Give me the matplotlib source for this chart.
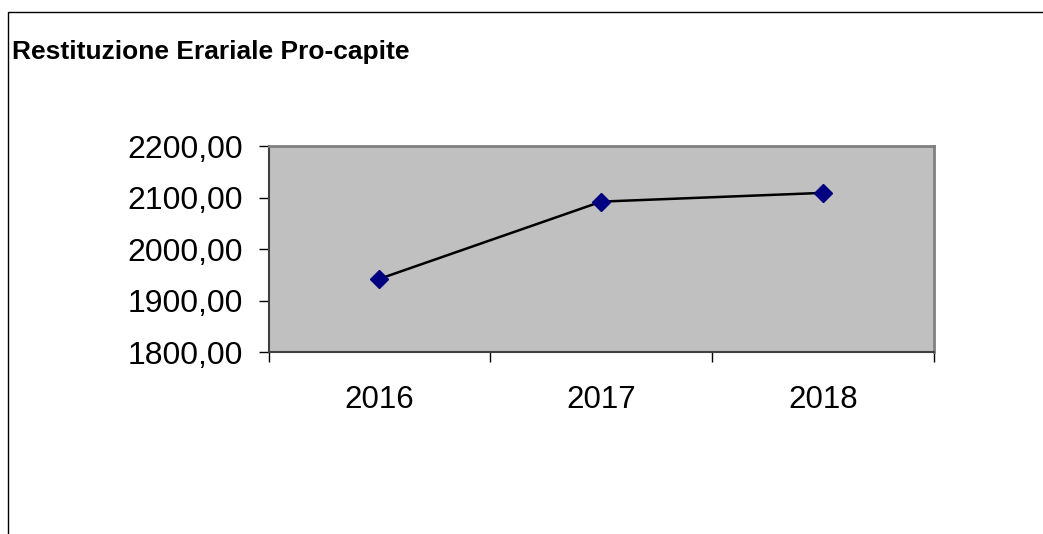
import matplotlib
matplotlib.use("Agg")
import matplotlib.pyplot as plt
from matplotlib.patches import Rectangle

years = ["2016", "2017", "2018"]
values = [1942.0, 2092.0, 2109.0]
y_ticks = [1800, 1900, 2000, 2100, 2200]
y_tick_labels = ["1800,00", "1900,00", "2000,00", "2100,00", "2200,00"]
title = "Restituzione Erariale Pro-capite"

plt.rcParams['font.family'] = ['Liberation Sans', 'DejaVu Sans']

W, H = 1043, 534
fig = plt.figure(figsize=(W / 100, H / 100), dpi=100)

# outer chart border (left and top visible, rest clipped)
fig.patches.append(Rectangle((8 / W, -0.1), 1.2, (H - 12) / H + 0.1, transform=fig.transFigure,
                             fill=False, edgecolor='black', linewidth=1.0))

fig.text(12 / W, 1 - 52 / H, title, fontsize=19, fontweight='bold', ha='left', va='center')

left, right, top, bottom = 268.5, 934, 146, 352
ax = fig.add_axes([left / W, 1 - bottom / H, (right - left) / W, (bottom - top) / H])
ax.set_facecolor('#c0c0c0')
x = list(range(len(years)))
ax.plot(x, values, color='black', linewidth=1.8, marker='D', markersize=9,
        markerfacecolor='#000080', markeredgecolor='#000080', zorder=3)
ax.set_xlim(-0.5, len(years) - 0.5)
ax.set_ylim(1800, 2200)
ax.set_yticks(y_ticks)
ax.set_yticklabels(y_tick_labels, fontsize=23)
ax.set_xticks([i - 0.5 for i in range(len(years) + 1)], minor=False)
ax.set_xticklabels([])
ax.set_xticks(x, minor=True)
ax.set_xticklabels(years, minor=True, fontsize=22.5)
ax.tick_params(axis='x', which='minor', length=0, pad=24)
ax.tick_params(axis='x', which='major', length=7.2, width=1, color='black', direction='out')
ax.tick_params(axis='y', length=7.2, width=1, color='black', direction='out', pad=11)
for s in ['top', 'right']:
    ax.spines[s].set_color('#808080')
    ax.spines[s].set_linewidth(2)
for s in ['left', 'bottom']:
    ax.spines[s].set_color('#404040')
    ax.spines[s].set_linewidth(1.5)

fig.savefig('out.png', dpi=100)
